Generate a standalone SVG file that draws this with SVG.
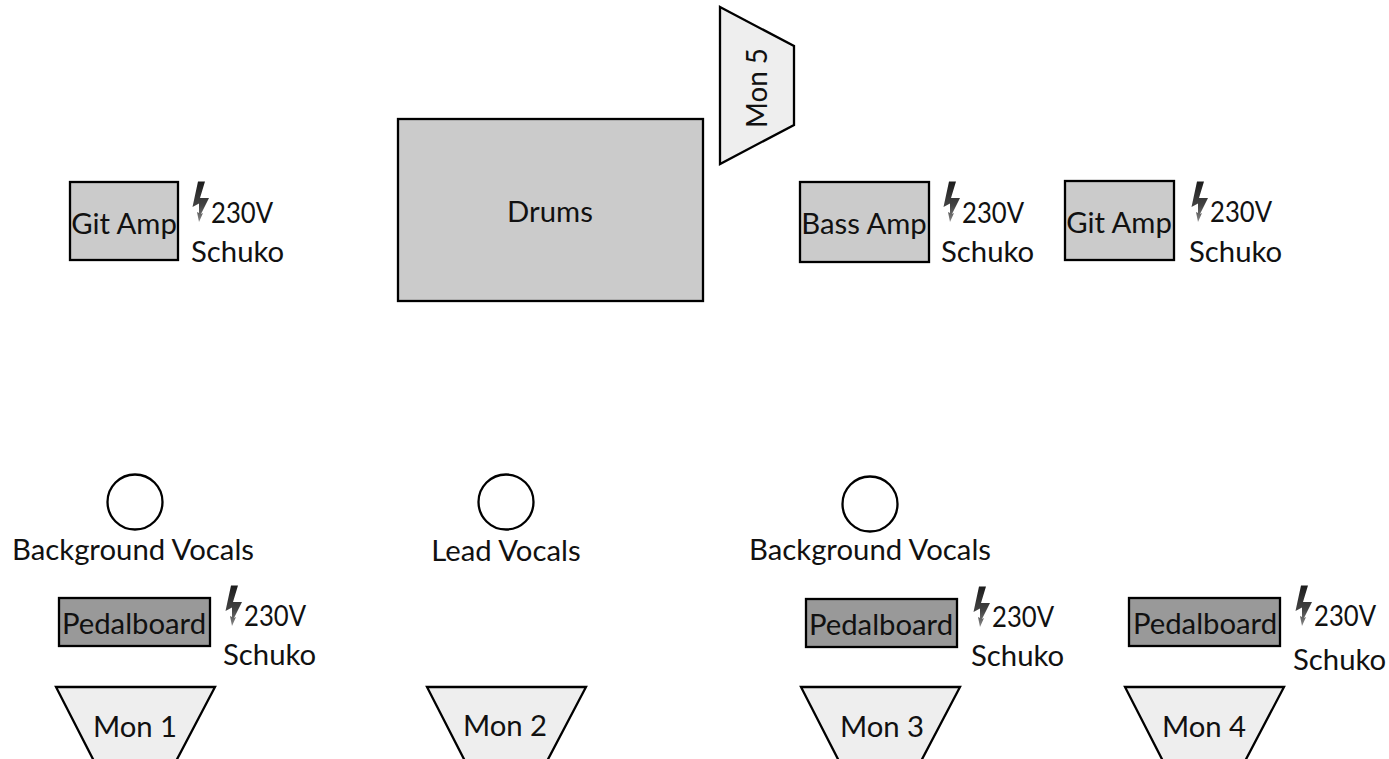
<svg xmlns="http://www.w3.org/2000/svg" width="1389" height="759" viewBox="0 0 1389 759">
<style>
.s{stroke:#000;stroke-width:2.300;stroke-linejoin:miter}
.a{fill:#cbcbcb}.p{fill:#999999}.m{fill:#eeeeee}.c{fill:#fff}
text{font-family:Lato,"Liberation Sans",sans-serif;font-size:29.300px;fill:#111}
.mid{text-anchor:middle}
</style>
<defs>
<linearGradient id="bg" x1="0" y1="0" x2="0" y2="1"><stop offset="0" stop-color="#1c1c1c"/><stop offset="0.600" stop-color="#444"/><stop offset="1" stop-color="#888"/></linearGradient>
<symbol id="bolt" overflow="visible"><path d="M7 0.500H14L9 17H18L10 33L12 32L8 41L6 31L8 32L8 22.500L1.500 26Z" fill="url(#bg)"/></symbol>
</defs>
<rect width="1389" height="759" fill="#fff"/>
<g id="connectors"/>
<g id="drums"><rect class="s a" x="398" y="119" width="305" height="182"/><text class="mid" x="550" y="222">Drums</text></g>
<g id="mon5"><path class="s m" d="M720 7L794 46V125L720 164Z"/><text class="mid" transform="translate(767 88) rotate(-90)" textLength="80" lengthAdjust="spacingAndGlyphs">Mon 5</text></g>
<g id="gitamp1"><rect class="s a" x="70" y="182" width="108" height="78"/><text class="mid" x="124" y="234">Git Amp</text><use href="#bolt" x="191" y="181"/><text x="211" y="223" textLength="62" lengthAdjust="spacingAndGlyphs">230V</text><text x="191" y="262">Schuko</text></g>
<g id="bassamp"><rect class="s a" x="800" y="182" width="129" height="80"/><text class="mid" x="864" y="234">Bass Amp</text><use href="#bolt" x="942" y="181"/><text x="962" y="223" textLength="62" lengthAdjust="spacingAndGlyphs">230V</text><text x="941" y="262">Schuko</text></g>
<g id="gitamp2"><rect class="s a" x="1065" y="181" width="109" height="79"/><text class="mid" x="1119" y="233">Git Amp</text><use href="#bolt" x="1190" y="181"/><text x="1210" y="222" textLength="62" lengthAdjust="spacingAndGlyphs">230V</text><text x="1189" y="262">Schuko</text></g>
<g id="bv1"><circle class="s c" cx="135" cy="502" r="27.500"/><text class="mid" x="133" y="560">Background Vocals</text></g>
<g id="lead"><circle class="s c" cx="506" cy="502" r="27.500"/><text class="mid" x="506" y="561">Lead Vocals</text></g>
<g id="bv2"><circle class="s c" cx="870" cy="504" r="27.500"/><text class="mid" x="870" y="560">Background Vocals</text></g>
<g id="pb1"><rect class="s p" x="59" y="598" width="151" height="48"/><text class="mid" x="134" y="634">Pedalboard</text><use href="#bolt" x="224" y="585"/><text x="244" y="626" textLength="62" lengthAdjust="spacingAndGlyphs">230V</text><text x="223" y="665">Schuko</text></g>
<g id="pb2"><rect class="s p" x="806" y="599" width="151" height="48"/><text class="mid" x="881" y="635">Pedalboard</text><use href="#bolt" x="972" y="586"/><text x="992" y="627" textLength="62" lengthAdjust="spacingAndGlyphs">230V</text><text x="971" y="666">Schuko</text></g>
<g id="pb3"><rect class="s p" x="1129" y="598" width="151" height="48"/><text class="mid" x="1205" y="634">Pedalboard</text><use href="#bolt" x="1294" y="585"/><text x="1314" y="626" textLength="62" lengthAdjust="spacingAndGlyphs">230V</text><text x="1293" y="670">Schuko</text></g>
<g id="mon1"><path class="s m" d="M56 687H215L174 765H96Z"/><text class="mid" x="135" y="737">Mon 1</text></g>
<g id="mon2"><path class="s m" d="M427 687H586L545 765H467Z"/><text class="mid" x="505" y="736">Mon 2</text></g>
<g id="mon3"><path class="s m" d="M801 687H960L919 765H841Z"/><text class="mid" x="882" y="737">Mon 3</text></g>
<g id="mon4"><path class="s m" d="M1125 687H1284L1243 765H1165Z"/><text class="mid" x="1204" y="737">Mon 4</text></g>
</svg>
